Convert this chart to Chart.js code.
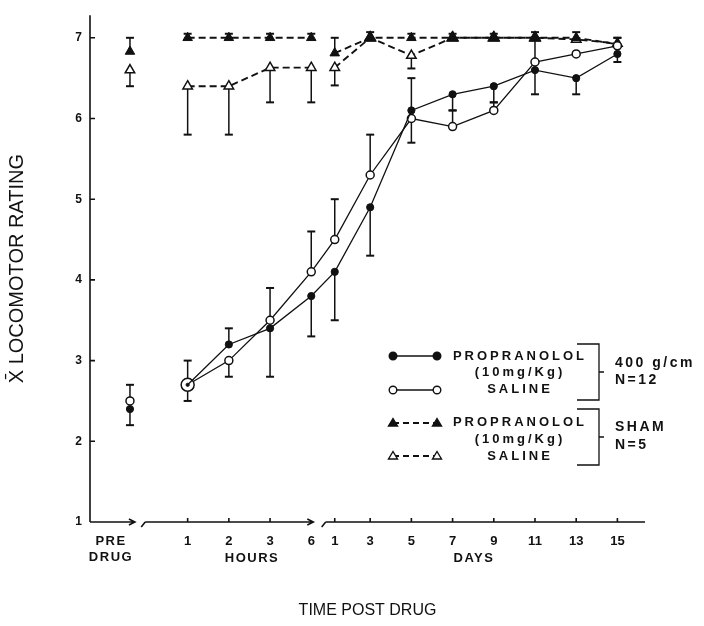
<!DOCTYPE html>
<html>
<head>
<meta charset="utf-8">
<title>Locomotor rating</title>
<script src="https://cdn.jsdelivr.net/npm/chart.js@4.4.1/dist/chart.umd.min.js"></script>
<style>
    html, body { margin: 0; padding: 0; background: #fff; }
    #wrap { width: 704px; height: 626px; }
</style>
</head>
<body>
<div id="wrap"><canvas id="chart" width="704" height="626"></canvas></div>
<script>
// Time points on the broken axis: pre drug, hours, days
const timeLabels = ['PRE', '1', '2', '3', '6', '1', '3', '5', '7', '9', '11', '13', '15'];
const timeSlots = [0, 1.4, 2.4, 3.4, 4.4, 4.97, 5.83, 6.83, 7.83, 8.83, 9.83, 10.83, 11.83];
const yTicks = [1, 2, 3, 4, 5, 6, 7];

// 400 g/cm, N=12
const prop400 = [2.4, 2.7, 3.2, 3.4, 3.8, 4.1, 4.9, 6.1, 6.3, 6.4, 6.6, 6.5, 6.8];
const prop400Up = [0, 0, 0.2, 0, 0, 0, 0, 0.4, 0, 0, 0, 0, 0];
const prop400Down = [0.2, 0.2, 0, 0.6, 0.5, 0.6, 0.6, 0, 0.2, 0.2, 0.3, 0.2, 0.1];
const saline400 = [2.5, 2.7, 3.0, 3.5, 4.1, 4.5, 5.3, 6.0, 5.9, 6.1, 6.7, 6.8, 6.9];
const saline400Up = [0.2, 0.3, 0, 0.4, 0.5, 0.5, 0.5, 0, 0.2, 0.1, 0.3, 0, 0.1];
const saline400Down = [0, 0, 0.2, 0, 0, 0, 0, 0.3, 0, 0, 0, 0, 0];

// SHAM, N=5
const propSham = [6.83, 7.0, 7.0, 7.0, 7.0, 6.81, 7.0, 7.0, 7.0, 7.0, 7.0, 7.0, 6.92];
const propShamUp = [0.17, 0.05, 0.05, 0.05, 0.05, 0.19, 0.07, 0.05, 0.05, 0.05, 0.07, 0.07, 0.08];
const propShamDown = [0, 0, 0, 0, 0, 0, 0, 0, 0, 0, 0, 0, 0];
const salineSham = [6.6, 6.4, 6.4, 6.63, 6.63, 6.63, 7.0, 6.78, 7.0, 7.0, 7.0, 6.98, 6.93];
const salineShamUp = [0, 0, 0, 0, 0, 0, 0, 0, 0, 0, 0, 0, 0];
const salineShamDown = [0.2, 0.6, 0.6, 0.43, 0.43, 0.22, 0, 0.16, 0, 0, 0, 0, 0];

// points with a gap wherever the curve is not joined
function buildPoints(values, breakAfter) {
    const pts = [];
    values.forEach((v, i) => {
        pts.push({ x: timeSlots[i], y: v, i });
        if (breakAfter.includes(i)) pts.push({ x: (timeSlots[i] + timeSlots[i + 1]) / 2, y: null });
    });
    return pts;
}

const INK = '#111';
const boldFont = '"Liberation Sans", Arial, Helvetica, sans-serif';

function same(a, b, ctx) {
    const i = ctx.raw ? ctx.raw.i : undefined;
    return i !== undefined && a[i] === b[i];
}

// error bars, drawn under the markers
const errorBars = {
    id: 'errorBars',
    beforeDatasetsDraw(chart) {
        const { ctx, scales: { y } } = chart;
        ctx.save();
        ctx.strokeStyle = INK;
        chart.data.datasets.forEach((ds, d) => {
            const meta = chart.getDatasetMeta(d);
            ds.data.forEach((p, j) => {
                if (p.y === null) return;
                const el = meta.data[j];
                [[ds.errUp[p.i], 1], [ds.errDown[p.i], -1]].forEach(([e, s]) => {
                    if (!e) return;
                    const yy = y.getPixelForValue(p.y + s * e);
                    ctx.lineWidth = 1.5;
                    ctx.beginPath();
                    ctx.moveTo(el.x, el.y);
                    ctx.lineTo(el.x, yy);
                    ctx.stroke();
                    ctx.lineWidth = 2;
                    ctx.beginPath();
                    ctx.moveTo(el.x - 4, yy);
                    ctx.lineTo(el.x + 4, yy);
                    ctx.stroke();
                });
            });
        });
        ctx.restore();
    }
};

// axes with breaks, inward ticks and group labels
const brokenAxes = {
    id: 'brokenAxes',
    beforeDatasetsDraw(chart) {
        const { ctx, chartArea: { left, right, top, bottom }, scales: { x, y } } = chart;
        const px = v => x.getPixelForValue(v);
        ctx.save();
        ctx.strokeStyle = INK;
        ctx.lineWidth = 1.6;
        ctx.beginPath();
        ctx.moveTo(left, top);
        ctx.lineTo(left, bottom);
        yTicks.forEach(v => {
            const yy = y.getPixelForValue(v);
            ctx.moveTo(left, yy);
            ctx.lineTo(left + 5, yy);
        });
        // x segments
        const segs = [[left, px(0.12), false, true], [px(0.37), px(4.45), true, true], [px(4.75), right, true, false]];
        segs.forEach(([a, b, slash, arrow]) => {
            ctx.moveTo(a, bottom);
            ctx.lineTo(b, bottom);
            if (slash) {
                ctx.moveTo(a - 4, bottom + 5);
                ctx.lineTo(a, bottom);
            }
            if (arrow) {
                ctx.moveTo(b - 6, bottom - 3);
                ctx.lineTo(b, bottom);
                ctx.lineTo(b - 6, bottom + 3);
            }
        });
        timeSlots.slice(1).forEach((v, k) => {
            if (k === 3) return;
            ctx.moveTo(px(v), bottom);
            ctx.lineTo(px(v), bottom - 4);
        });
        ctx.stroke();

        ctx.fillStyle = INK;
        ctx.font = 'bold 13px ' + boldFont;
        ctx.textAlign = 'center';
        ctx.textBaseline = 'middle';
        ctx.letterSpacing = '1.5px';
        ctx.fillText('PRE', 111, 541);
        ctx.fillText('DRUG', 111, 557);
        ctx.fillText('HOURS', 252, 558);
        ctx.fillText('DAYS', 474, 558);
        ctx.restore();
    }
};

// legend with brackets
const groupLegend = {
    id: 'groupLegend',
    afterDraw(chart) {
        const { ctx } = chart;
        ctx.save();
        ctx.strokeStyle = INK;
        ctx.fillStyle = INK;
        const rows = [
            { y: 356, dash: [], shape: 'circle', fill: true },
            { y: 390, dash: [], shape: 'circle', fill: false },
            { y: 423, dash: [6, 4], shape: 'triangle', fill: true },
            { y: 456, dash: [6, 4], shape: 'triangle', fill: false }
        ];
        rows.forEach(r => {
            ctx.lineWidth = r.dash.length ? 1.8 : 1.5;
            ctx.setLineDash(r.dash);
            ctx.beginPath();
            ctx.moveTo(393, r.y);
            ctx.lineTo(437, r.y);
            ctx.stroke();
            ctx.setLineDash([]);
            [393, 437].forEach(cx => {
                ctx.beginPath();
                if (r.shape === 'circle') {
                    ctx.arc(cx, r.y, 3.8, 0, Math.PI * 2);
                } else {
                    ctx.moveTo(cx, r.y - 4.5);
                    ctx.lineTo(cx + 4.5, r.y + 3);
                    ctx.lineTo(cx - 4.5, r.y + 3);
                    ctx.closePath();
                }
                ctx.fillStyle = r.fill ? INK : '#fff';
                ctx.fill();
                ctx.lineWidth = 1.4;
                ctx.stroke();
            });
        });
        ctx.fillStyle = INK;
        ctx.font = 'bold 13px ' + boldFont;
        ctx.textBaseline = 'middle';
        ctx.textAlign = 'center';
        ctx.letterSpacing = '3px';
        [[356, 'PROPRANOLOL'], [372, '(10mg/Kg)'], [389, 'SALINE'],
         [422, 'PROPRANOLOL'], [439, '(10mg/Kg)'], [456, 'SALINE']].forEach(([yy, t]) => {
            ctx.fillText(t, 520, yy);
        });
        ctx.textAlign = 'left';
        ctx.font = 'bold 14px ' + boldFont;
        ctx.letterSpacing = '2.5px';
        ctx.fillText('400 g/cm', 615, 363);
        ctx.fillText('N=12', 615, 380);
        ctx.fillText('SHAM', 615, 427);
        ctx.fillText('N=5', 615, 445);
        ctx.letterSpacing = '0px';
        ctx.lineWidth = 1.3;
        [[344, 400], [409, 465]].forEach(([t, b]) => {
            ctx.beginPath();
            ctx.moveTo(577, t);
            ctx.lineTo(599, t);
            ctx.lineTo(599, b);
            ctx.lineTo(577, b);
            ctx.moveTo(599, (t + b) / 2);
            ctx.lineTo(604, (t + b) / 2);
            ctx.stroke();
        });
        ctx.restore();
    }
};

const ctx = document.getElementById('chart').getContext('2d');
const chart = new Chart(ctx, {
    type: 'line',
    data: {
        datasets: [
            {
                label: 'PROPRANOLOL 400 g/cm',
                data: buildPoints(prop400, [0]),
                errUp: prop400Up,
                errDown: prop400Down,
                borderColor: INK,
                borderWidth: 1.3,
                pointBackgroundColor: INK,
                pointBorderColor: INK,
                pointBorderWidth: 1,
                pointRadius: c => same(prop400, saline400, c) ? 1.6 : 3.6
            },
            {
                label: 'SALINE 400 g/cm',
                data: buildPoints(saline400, [0]),
                errUp: saline400Up,
                errDown: saline400Down,
                borderColor: INK,
                borderWidth: 1.3,
                pointBackgroundColor: '#fff',
                pointBorderColor: INK,
                pointBorderWidth: 1.5,
                pointRadius: c => same(prop400, saline400, c) ? 6.5 : 4
            },
            {
                label: 'PROPRANOLOL SHAM',
                data: buildPoints(propSham, [0, 4]),
                errUp: propShamUp,
                errDown: propShamDown,
                borderColor: INK,
                borderWidth: 1.9,
                borderDash: [7, 4],
                pointStyle: 'triangle',
                pointBackgroundColor: INK,
                pointBorderColor: INK,
                pointBorderWidth: 1,
                pointRadius: c => same(propSham, salineSham, c) ? 7 : 5.5
            },
            {
                label: 'SALINE SHAM',
                data: buildPoints(salineSham, [0, 4]),
                errUp: salineShamUp,
                errDown: salineShamDown,
                borderColor: INK,
                borderWidth: 1.9,
                borderDash: [7, 4],
                pointStyle: 'triangle',
                pointBackgroundColor: '#fff',
                pointBorderColor: INK,
                pointBorderWidth: 1.5,
                pointRadius: 5.5
            }
        ]
    },
    options: {
        responsive: false,
        animation: false,
        devicePixelRatio: 1,
        spanGaps: false,
        layout: { padding: { left: 0, right: 59, top: 10, bottom: 0 } },
        plugins: {
            legend: { display: false },
            tooltip: { enabled: false }
        },
        scales: {
            x: {
                type: 'linear',
                min: -0.97,
                max: 12.5,
                afterFit: s => { s.height = 104; },
                afterBuildTicks: s => { s.ticks = timeSlots.slice(1).map(v => ({ value: v })); },
                grid: { display: false, drawTicks: false },
                border: { display: false },
                ticks: {
                    autoSkip: false,
                    maxRotation: 0,
                    padding: 12,
                    color: INK,
                    font: { family: boldFont, size: 13, weight: 'bold' },
                    callback: (v, i) => timeLabels[i + 1]
                },
                title: {
                    display: true,
                    text: 'TIME POST DRUG',
                    color: INK,
                    font: { family: boldFont, size: 16 },
                    padding: { top: 4, bottom: 6 }
                }
            },
            y: {
                min: 1,
                max: 7.28,
                afterFit: s => { s.width = 90; },
                afterBuildTicks: s => { s.ticks = yTicks.map(v => ({ value: v })); },
                grid: { display: false, drawTicks: false },
                border: { display: false },
                ticks: {
                    padding: 8,
                    color: INK,
                    font: { family: boldFont, size: 12, weight: 'bold' }
                },
                title: {
                    display: true,
                    text: 'X\u0304 LOCOMOTOR RATING',
                    color: INK,
                    font: { family: boldFont, size: 20 },
                    padding: { top: 5, bottom: 0 }
                }
            }
        }
    },
    plugins: [errorBars, brokenAxes, groupLegend]
});
</script>
</body>
</html>
